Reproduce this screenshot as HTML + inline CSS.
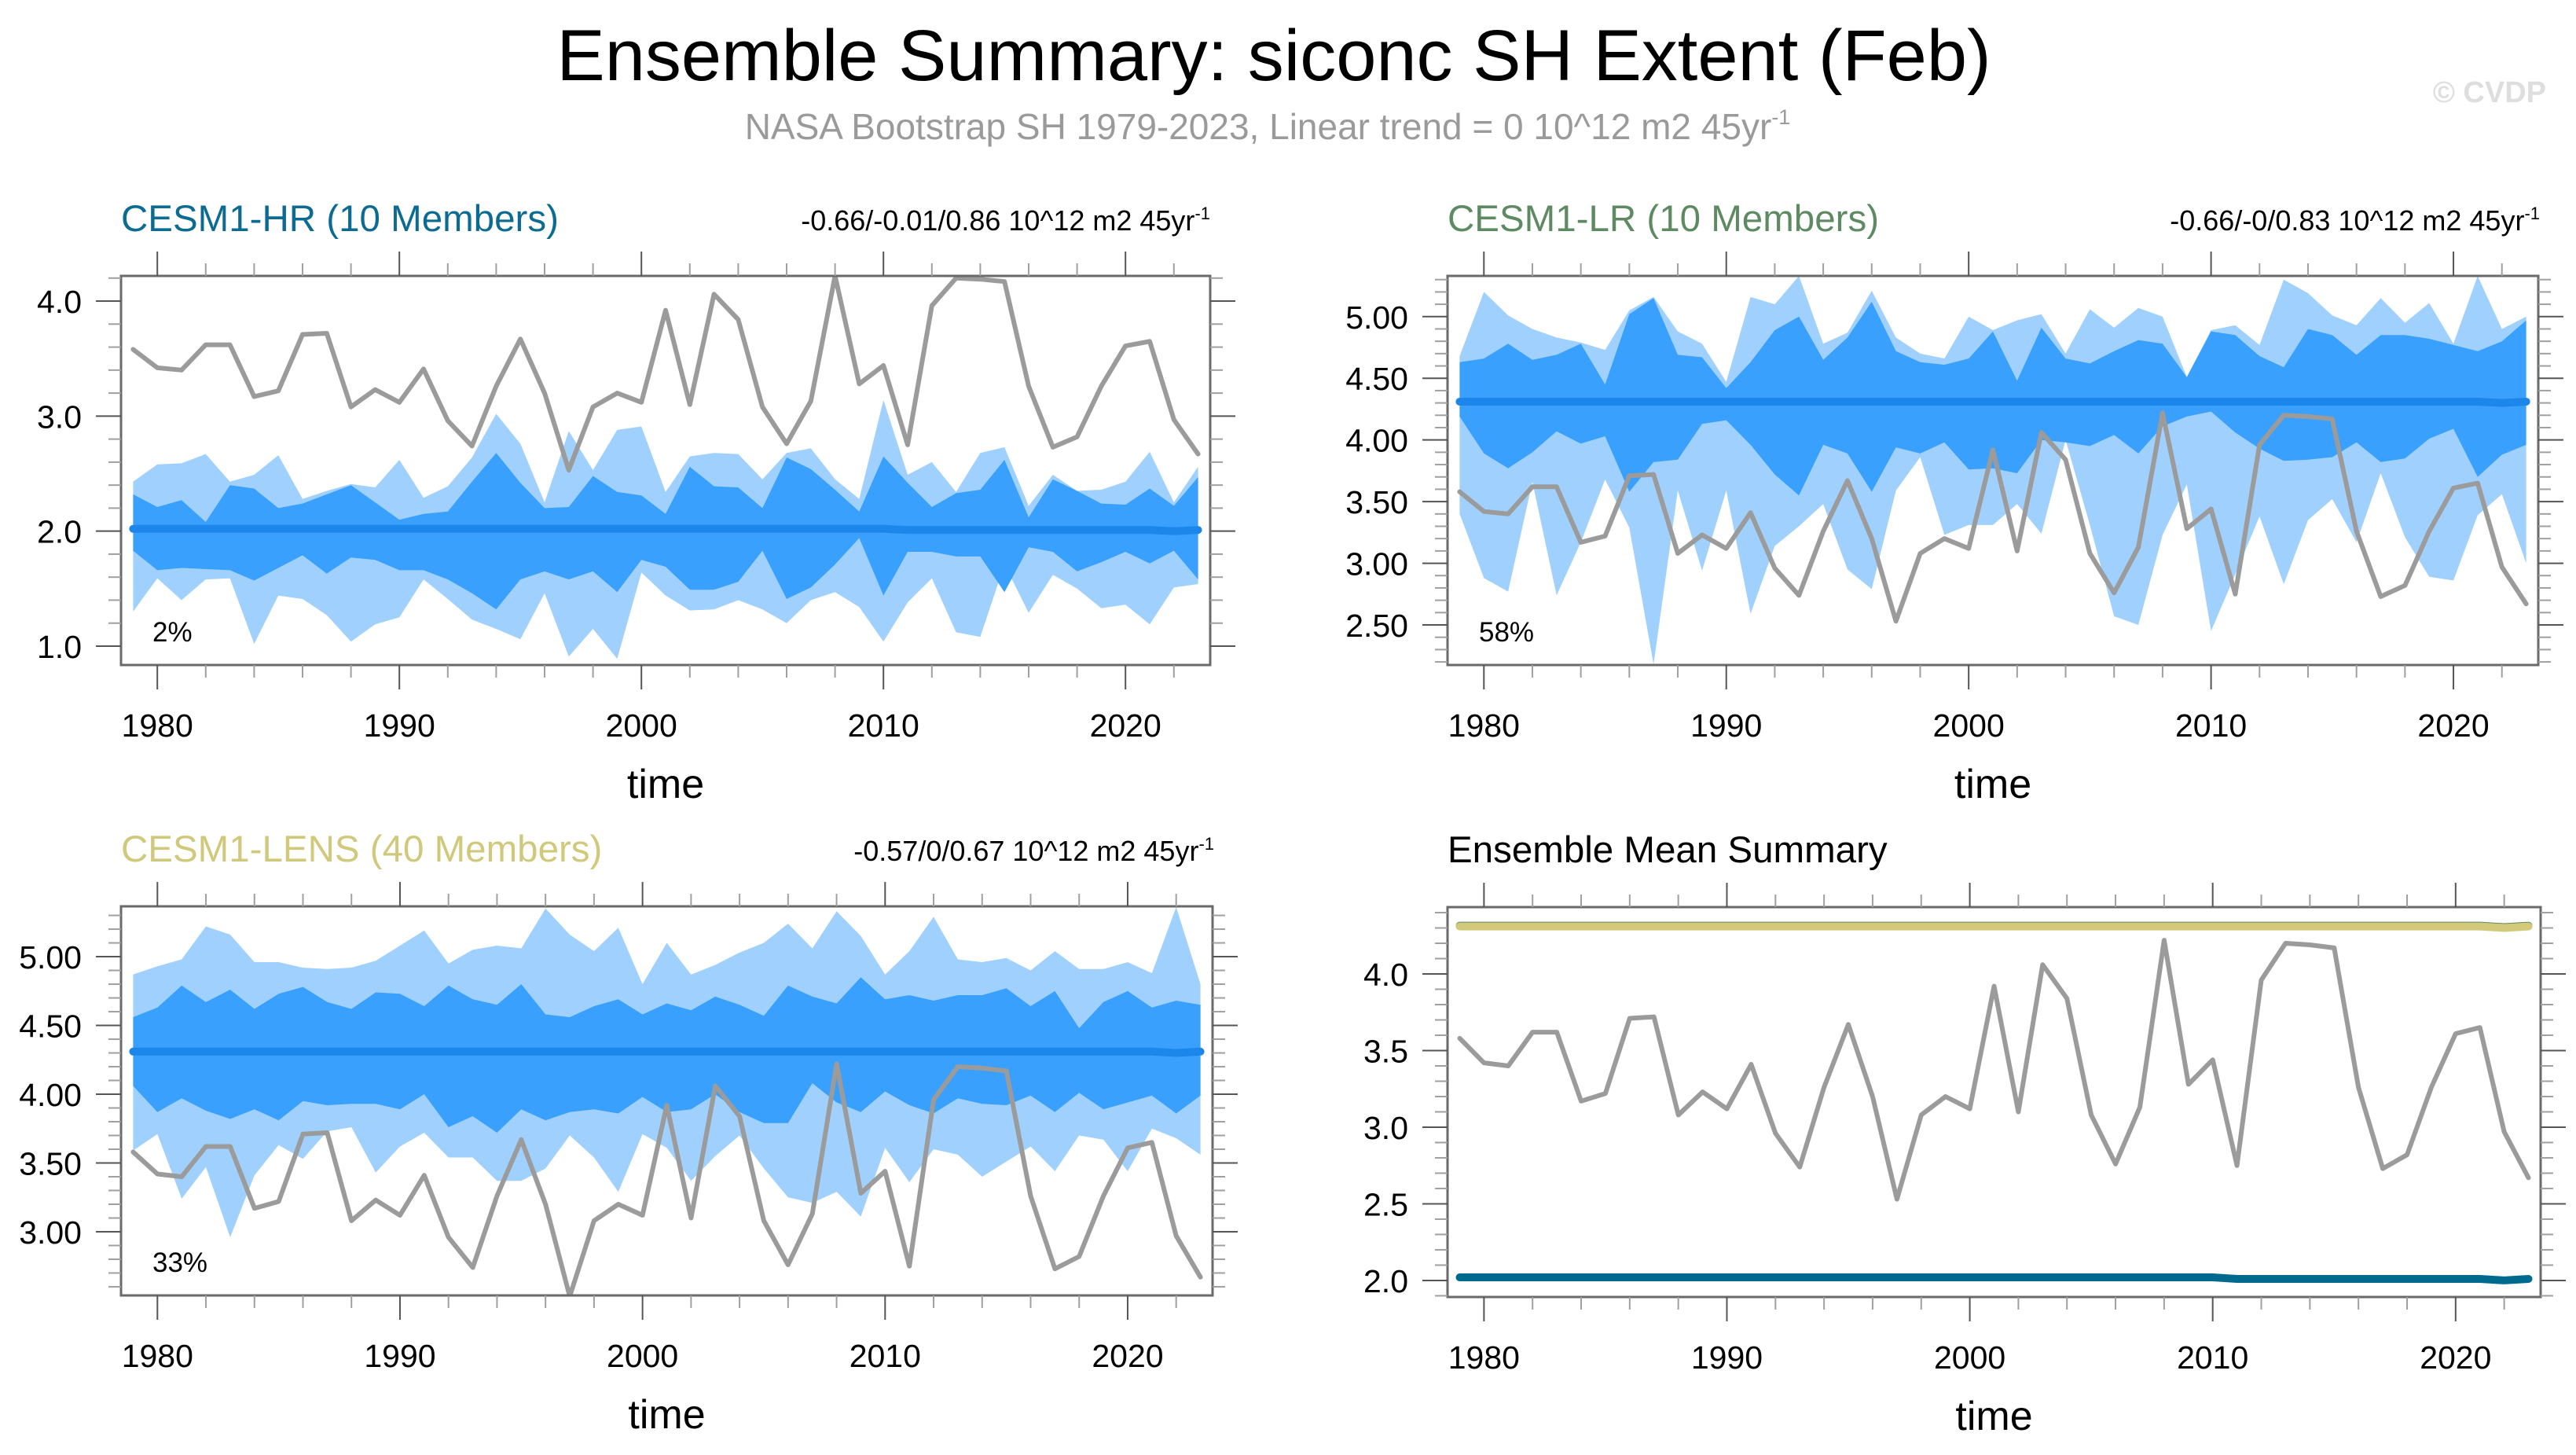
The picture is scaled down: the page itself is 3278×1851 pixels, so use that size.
<!DOCTYPE html>
<html><head><meta charset="utf-8"><style>
html,body{margin:0;padding:0;background:#fff;}
svg{display:block;font-family:"Liberation Sans",Arial,sans-serif;}
</style></head><body>
<svg id="fig" width="3278" height="1851" viewBox="0 0 3278 1851" xmlns="http://www.w3.org/2000/svg">
<rect width="3278" height="1851" fill="#fff"/>
<text x="1621" y="102" font-size="92" text-anchor="middle" fill="#000">Ensemble Summary: siconc SH Extent (Feb)</text>
<text x="1613" y="177" font-size="46" text-anchor="middle" fill="#9a9a9a">NASA Bootstrap SH 1979-2023, Linear trend = 0 10^12 m2 45yr<tspan dy="-19" font-size="27">-1</tspan></text>
<text x="3240" y="130" font-size="38" font-weight="bold" text-anchor="end" fill="#dedede">© CVDP</text>
<g id="plots"></g>
</svg>
<script>
const years = [];
for (let y = 1979; y <= 2023; y++) years.push(y);

const obs = [3.58,3.42,3.40,3.62,3.62,3.17,3.22,3.71,3.72,3.08,3.23,3.12,3.41,2.96,2.74,3.26,3.67,3.20,2.53,3.08,3.20,3.12,3.92,3.10,4.06,3.84,3.08,2.76,3.13,4.22,3.28,3.44,2.75,3.96,4.20,4.19,4.17,3.26,2.73,2.82,3.26,3.61,3.65,2.97,2.67];

const hrOuterUp = [2.43,2.58,2.59,2.67,2.43,2.49,2.66,2.28,2.35,2.41,2.38,2.62,2.29,2.39,2.64,3.02,2.76,2.25,2.87,2.53,2.88,2.91,2.34,2.65,2.68,2.67,2.45,2.68,2.72,2.45,2.28,3.14,2.49,2.60,2.34,2.68,2.73,2.22,2.49,2.35,2.36,2.43,2.69,2.25,2.56];
const hrInnerUp = [2.32,2.21,2.27,2.08,2.40,2.37,2.20,2.24,2.32,2.40,2.25,2.10,2.15,2.17,2.43,2.68,2.42,2.20,2.21,2.48,2.34,2.31,2.15,2.56,2.39,2.38,2.20,2.64,2.54,2.36,2.17,2.65,2.42,2.21,2.33,2.36,2.62,2.12,2.45,2.35,2.24,2.23,2.37,2.22,2.47];
const hrInnerLo = [1.83,1.66,1.68,1.67,1.66,1.57,1.68,1.79,1.63,1.77,1.75,1.66,1.66,1.58,1.46,1.32,1.58,1.65,1.58,1.65,1.47,1.75,1.69,1.49,1.49,1.56,1.83,1.41,1.51,1.71,1.94,1.44,1.82,1.82,1.78,1.78,1.47,1.86,1.82,1.65,1.73,1.82,1.72,1.83,1.58];
const hrOuterLo = [1.30,1.59,1.40,1.58,1.59,1.02,1.44,1.41,1.27,1.04,1.19,1.25,1.58,1.41,1.23,1.15,1.06,1.46,0.91,1.15,0.89,1.64,1.44,1.31,1.32,1.40,1.32,1.20,1.40,1.47,1.34,1.04,1.38,1.59,1.12,1.08,1.71,1.29,1.62,1.50,1.33,1.36,1.19,1.51,1.54];
const hrMean = [2.02,2.02,2.02,2.02,2.02,2.02,2.02,2.02,2.02,2.02,2.02,2.02,2.02,2.02,2.02,2.02,2.02,2.02,2.02,2.02,2.02,2.02,2.02,2.02,2.02,2.02,2.02,2.02,2.02,2.02,2.02,2.02,2.01,2.01,2.01,2.01,2.01,2.01,2.01,2.01,2.01,2.01,2.01,2.00,2.01];

const lrOuterUp = [4.68,5.20,5.01,4.90,4.83,4.79,4.73,5.05,5.16,4.88,4.78,4.47,5.16,5.10,5.33,4.78,4.87,5.21,4.83,4.70,4.66,5.00,4.89,4.97,5.02,4.70,5.06,4.91,5.07,5.00,4.51,4.89,4.93,4.77,5.30,5.19,5.01,4.93,5.15,4.95,5.11,4.78,5.33,4.90,5.00];
const lrInnerUp = [4.63,4.66,4.78,4.65,4.69,4.78,4.45,5.02,5.15,4.69,4.67,4.42,4.63,4.89,5.00,4.65,4.83,5.12,4.72,4.63,4.61,4.66,4.88,4.48,4.91,4.66,4.62,4.72,4.81,4.78,4.51,4.88,4.85,4.68,4.59,4.90,4.85,4.69,4.85,4.85,4.82,4.77,4.72,4.80,4.97];
const lrInnerLo = [4.19,3.89,3.77,3.90,4.07,3.97,4.03,3.58,3.82,3.84,4.13,4.16,3.96,3.72,3.55,3.96,3.89,3.58,3.94,3.89,3.98,3.76,3.77,3.73,4.00,3.98,3.95,4.04,3.89,4.11,4.19,4.23,4.06,3.93,3.83,3.84,3.86,3.98,3.82,3.85,4.01,4.09,3.70,3.88,3.96];
const lrOuterLo = [3.40,2.88,2.77,3.66,2.74,3.17,3.68,3.29,2.18,3.59,2.94,3.59,2.59,3.14,3.30,3.48,2.95,2.79,3.59,3.86,3.23,3.31,3.31,3.48,3.24,4.00,3.31,2.57,2.50,3.23,3.64,2.45,2.91,3.38,2.83,3.35,3.52,3.17,3.73,3.21,2.89,2.86,3.39,3.56,3.00];
const lrMean = [4.31,4.31,4.31,4.31,4.31,4.31,4.31,4.31,4.31,4.31,4.31,4.31,4.31,4.31,4.31,4.31,4.31,4.31,4.31,4.31,4.31,4.31,4.31,4.31,4.31,4.31,4.31,4.31,4.31,4.31,4.31,4.31,4.31,4.31,4.31,4.31,4.31,4.31,4.31,4.31,4.31,4.31,4.31,4.30,4.31];

const lensOuterUp = [4.87,4.93,4.98,5.22,5.16,4.96,4.96,4.92,4.91,4.92,4.97,5.08,5.19,4.95,5.05,5.08,5.06,5.35,5.16,5.04,5.21,4.80,5.10,4.87,4.94,5.03,5.10,5.24,5.06,5.33,5.15,4.87,5.04,5.29,4.98,4.96,4.99,4.90,5.04,4.91,4.91,4.96,4.88,5.36,4.80];
const lensInnerUp = [4.56,4.63,4.79,4.67,4.76,4.62,4.73,4.78,4.67,4.62,4.74,4.73,4.64,4.79,4.69,4.65,4.80,4.58,4.56,4.64,4.69,4.58,4.66,4.61,4.71,4.65,4.57,4.79,4.71,4.66,4.85,4.69,4.72,4.68,4.72,4.72,4.77,4.64,4.75,4.48,4.67,4.75,4.63,4.68,4.65];
const lensInnerLo = [4.06,3.87,3.97,3.88,3.82,3.89,3.81,3.95,3.92,3.93,3.93,3.89,4.00,3.76,3.84,3.72,3.89,3.81,3.87,3.89,3.86,3.98,3.87,3.89,4.00,3.87,3.79,3.79,4.08,3.94,3.87,4.02,3.92,3.86,3.97,3.93,3.92,3.99,3.87,4.01,3.89,3.94,3.99,3.86,3.99];
const lensOuterLo = [3.59,3.71,3.24,3.47,2.96,3.41,3.63,3.53,3.73,3.76,3.43,3.62,3.72,3.54,3.54,3.37,3.37,3.46,3.70,3.54,3.29,3.71,3.61,3.37,3.55,3.70,3.46,3.25,3.21,3.29,3.11,3.61,3.36,3.60,3.56,3.40,3.51,3.62,3.44,3.70,3.67,3.44,3.75,3.68,3.56];
const lensMean = [4.31,4.31,4.31,4.31,4.31,4.31,4.31,4.31,4.31,4.31,4.31,4.31,4.31,4.31,4.31,4.31,4.31,4.31,4.31,4.31,4.31,4.31,4.31,4.31,4.31,4.31,4.31,4.31,4.31,4.31,4.31,4.31,4.31,4.31,4.31,4.31,4.31,4.31,4.31,4.31,4.31,4.31,4.31,4.30,4.31];

const hrYTicks = ["1.0","2.0","3.0","4.0"];
const lrYTicks = ["2.50","3.00","3.50","4.00","4.50","5.00"];
const lensYTicks = ["3.00","3.50","4.00","4.50","5.00"];
const sumYTicks = ["2.0","2.5","3.0","3.5","4.0"];
const xTickLabels = ["1980","1990","2000","2010","2020"];

const NS = "http://www.w3.org/2000/svg";
const root = document.getElementById("plots");
function mk(tag, attrs, parent) {
  const e = document.createElementNS(NS, tag);
  for (const k in attrs) e.setAttribute(k, attrs[k]);
  (parent || root).appendChild(e);
  return e;
}

function panel(cfg) {
  const g = mk("g", {});
  
  
  const L = cfg.x0, R = cfg.x1, T = cfg.y0, B = cfg.y1;
  const xs = v => L + (v - 1978.5) / 45 * (R - L);
  const ys = v => B - (v - cfg.ymin) / (cfg.ymax - cfg.ymin) * (B - T);
  const clipId = "clip-" + cfg.name;
  const defs = mk("defs", {}, g);
  const cp = mk("clipPath", {id: clipId}, defs);
  mk("rect", {x: L, y: T, width: R - L, height: B - T}, cp);
  const body = mk("g", {"clip-path": "url(#" + clipId + ")"}, g);

  function band(up, lo, color, nm) {
    let d = "";
    up.forEach((v, i) => { d += (i ? "L" : "M") + xs(years[i]).toFixed(1) + "," + ys(v).toFixed(1); });
    for (let i = lo.length - 1; i >= 0; i--) d += "L" + xs(years[i]).toFixed(1) + "," + ys(lo[i]).toFixed(1);
    const p = mk("path", {d: d + "Z", fill: color}, body);
    
    
  }
  function line(vals, color, w, nm) {
    const pts = vals.map((v, i) => xs(years[i]).toFixed(1) + "," + ys(v).toFixed(1)).join(" ");
    const p = mk("polyline", {points: pts, fill: "none", stroke: color, "stroke-width": w, "stroke-linejoin": "round", "stroke-linecap": "round"}, body);
    
    
  }
  if (cfg.bands) {
    band(cfg.bands[0], cfg.bands[3], "#a0d1fe", "outer-spread-band");
    band(cfg.bands[1], cfg.bands[2], "#39a0fd", "inner-spread-band");
    line(cfg.bands[4], "#1c86ea", 10, "ensemble-mean-line");
  }
  if (cfg.summary) {
    line(hrMean, "#006a8e", 10, "hr-mean-line");
    line(lrMean.map(v => v + 0.005), "#5e8a62", 10, "lr-mean-line");
    line(lensMean, "#d2ca7a", 10, "lens-mean-line");
  }
  line(obs, "#9b9b9b", 6, "observed-line");

  const fr = mk("rect", {x: L, y: T, width: R - L, height: B - T, fill: "none", stroke: "#6a6a6a", "stroke-width": 3}, g);
  
  

  for (let yr = 1980; yr <= 2022; yr += 2) {
    const major = yr % 10 === 0;
    const x = xs(yr), len = major ? 31 : 16, c = major ? "#555" : "#a0a0a0";
    mk("line", {x1: x, x2: x, y1: B, y2: B + len, stroke: c, "stroke-width": 2}, g);
    mk("line", {x1: x, x2: x, y1: T, y2: T - len, stroke: c, "stroke-width": 2}, g);
  }
  xTickLabels.forEach(s => {
    const t = mk("text", {x: xs(+s), y: B + 91, "font-size": 41, "text-anchor": "middle", fill: "#000"}, g);
    t.textContent = s;
    
    
  });
  const start = Math.ceil(cfg.ymin / cfg.minor - 1e-6) * cfg.minor;
  for (let v = start; v <= cfg.ymax + 1e-9; v += cfg.minor) {
    const major = Math.abs(v / cfg.major - Math.round(v / cfg.major)) < 1e-6;
    const y = ys(v), len = major ? 32 : 16, c = major ? "#555" : "#a0a0a0";
    mk("line", {x1: L, x2: L - len, y1: y, y2: y, stroke: c, "stroke-width": 2}, g);
    mk("line", {x1: R, x2: R + len, y1: y, y2: y, stroke: c, "stroke-width": 2}, g);
  }
  cfg.yticks.forEach(s => {
    const t = mk("text", {x: L - 50, y: ys(+s) + 15, "font-size": 41, "text-anchor": "end", fill: "#000"}, g);
    t.textContent = s;
    
    
  });
  const xt = mk("text", {x: (L + R) / 2, y: B + 169, "font-size": 52, "text-anchor": "middle", fill: "#000"}, g);
  xt.textContent = "time";
  
  
  const tt = mk("text", {x: L, y: T - 57, "font-size": 47.5, fill: cfg.titleColor}, g);
  tt.textContent = cfg.title;
  
  
  if (cfg.right) {
    const rt = mk("text", {x: cfg.rightX, y: T - 58, "font-size": 36, "text-anchor": "end", fill: "#000"}, g);
    rt.textContent = cfg.right;
    const sp = mk("tspan", {dy: -14, "font-size": 22}, rt);
    sp.textContent = "-1";
    
    
  }
  if (cfg.pct) {
    const pt = mk("text", {x: L + 40, y: B - 30, "font-size": 35, fill: "#000"}, g);
    pt.textContent = cfg.pct;
    
    
  }
}

panel({name: "cesm1-hr-panel", x0: 154, x1: 1540, y0: 351, y1: 846, ymin: 0.836, ymax: 4.219, major: 1, minor: 0.2,
  yticks: hrYTicks, bands: [hrOuterUp, hrInnerUp, hrInnerLo, hrOuterLo, hrMean],
  title: "CESM1-HR (10 Members)", titleColor: "#0b6b92", right: "-0.66/-0.01/0.86 10^12 m2 45yr", rightX: 1540, pct: "2%"});
panel({name: "cesm1-lr-panel", x0: 1842, x1: 3230, y0: 351, y1: 846, ymin: 2.175, ymax: 5.33, major: 0.5, minor: 0.1,
  yticks: lrYTicks, bands: [lrOuterUp, lrInnerUp, lrInnerLo, lrOuterLo, lrMean],
  title: "CESM1-LR (10 Members)", titleColor: "#5e8a62", right: "-0.66/-0/0.83 10^12 m2 45yr", rightX: 3232, pct: "58%"});
panel({name: "cesm1-lens-panel", x0: 154, x1: 1543, y0: 1153, y1: 1648, ymin: 2.537, ymax: 5.366, major: 0.5, minor: 0.1,
  yticks: lensYTicks, bands: [lensOuterUp, lensInnerUp, lensInnerLo, lensOuterLo, lensMean],
  title: "CESM1-LENS (40 Members)", titleColor: "#d0c87a", right: "-0.57/0/0.67 10^12 m2 45yr", rightX: 1545, pct: "33%"});
panel({name: "ensemble-mean-summary-panel", x0: 1842, x1: 3233, y0: 1154, y1: 1650, ymin: 1.892, ymax: 4.436, major: 0.5, minor: 0.1,
  yticks: sumYTicks, summary: true, title: "Ensemble Mean Summary", titleColor: "#000"});
</script>
</body></html>
